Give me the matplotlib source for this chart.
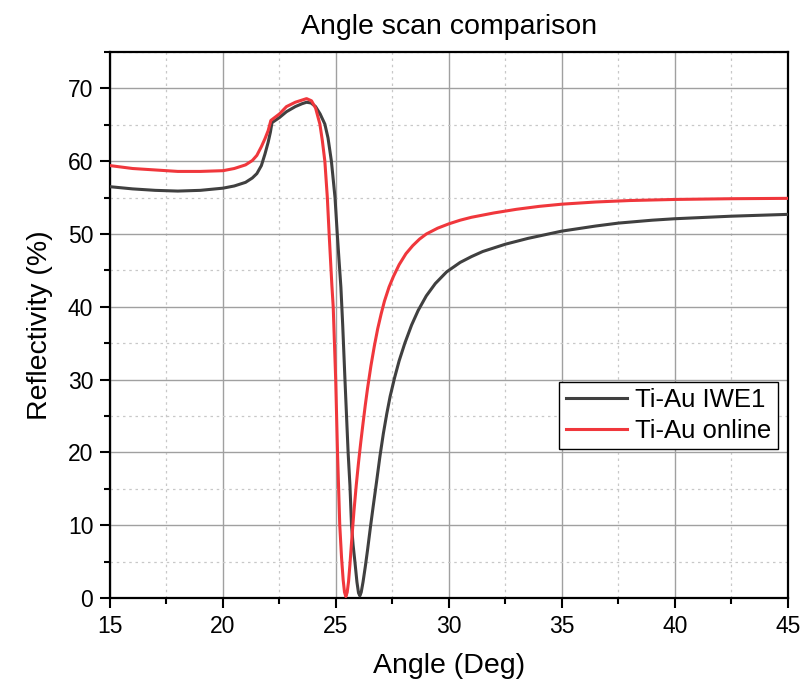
import matplotlib
matplotlib.use("Agg")
import matplotlib.pyplot as plt
from matplotlib.ticker import MultipleLocator

plt.rcParams['font.family'] = ['Liberation Sans', 'DejaVu Sans']

# Ti-Au IWE1 (dark)
iwe1_x = [15.0, 16.0, 17.0, 18.0, 19.0, 20.0, 20.5, 21.0, 21.3, 21.5, 21.7, 21.86, 22.0, 22.1,
          22.17, 22.5, 22.81, 23.2, 23.5, 23.7, 23.9, 24.1, 24.3, 24.51, 24.65, 24.8, 24.96,
          25.06, 25.14, 25.22, 25.3, 25.4, 25.54, 25.62, 25.69, 25.76, 25.84, 25.93, 26.0,
          26.06, 26.12, 26.2, 26.3, 26.4, 26.53, 26.65, 26.8, 26.95, 27.1, 27.25, 27.4, 27.6,
          27.8, 28.05, 28.35, 28.64, 29.0, 29.4, 29.9, 30.5, 31.0, 31.5, 32.5, 33.5, 35.0,
          36.5, 37.5, 39.0, 40.0, 42.5, 45.0]
iwe1_y = [56.5, 56.2, 56.0, 55.9, 56.0, 56.3, 56.6, 57.1, 57.7, 58.3, 59.4, 61.0, 62.6, 64.0,
          65.3, 66.0, 66.8, 67.5, 67.9, 68.1, 68.0, 67.5, 66.5, 65.1, 63.2, 60.0, 55.0,
          50.0, 46.3, 42.7, 37.5, 30.0, 20.0, 15.5, 10.0, 7.3, 5.0, 2.2, 0.7,
          0.3, 0.8, 2.2, 4.3, 6.6, 9.8, 12.6, 16.0, 19.5, 22.6, 25.3, 27.7, 30.3,
          32.6, 35.0, 37.5, 39.5, 41.5, 43.2, 44.8, 46.1, 46.9, 47.6, 48.6, 49.4, 50.4,
          51.1, 51.5, 51.9, 52.1, 52.45, 52.7]

# Ti-Au online (red)
online_x = [15.0, 16.0, 17.0, 18.0, 19.0, 20.0, 20.5, 21.0, 21.3, 21.5, 21.7, 21.86, 22.0,
            22.12, 22.5, 22.81, 23.2, 23.5, 23.7, 23.92, 24.1, 24.29, 24.4, 24.51, 24.62,
            24.7, 24.82, 24.88, 24.99, 25.07, 25.17, 25.25, 25.32, 25.38, 25.44, 25.5, 25.56,
            25.62, 25.7, 25.8, 25.9, 26.0, 26.1, 26.2, 26.3, 26.4, 26.55, 26.7, 26.85, 27.0,
            27.15, 27.35, 27.55, 27.8, 28.1, 28.4, 28.7, 29.0, 29.5, 30.0, 30.5, 31.0, 32.0,
            33.0, 34.0, 35.0, 36.5, 38.0, 40.0, 42.5, 45.0]
online_y = [59.4, 59.0, 58.8, 58.6, 58.6, 58.7, 59.0, 59.5, 60.1, 60.8, 62.0, 63.1, 64.2,
            65.6, 66.5, 67.5, 68.1, 68.4, 68.6, 68.3, 67.3, 65.1, 62.8, 60.0, 55.0,
            50.0, 43.0, 40.0, 30.0, 20.0, 10.0, 5.5, 2.5, 0.8, 0.2, 0.8, 2.3,
            4.6, 8.0, 12.0, 15.5, 18.6, 21.4, 24.0, 26.5, 28.8, 31.9, 34.6, 37.0, 39.0,
            40.8, 42.7, 44.2, 45.8, 47.3, 48.4, 49.3, 50.0, 50.8, 51.4, 51.9, 52.3, 52.9,
            53.4, 53.8, 54.1, 54.4, 54.6, 54.75, 54.85, 54.9]

fig = plt.figure(figsize=(8.03, 6.90), dpi=100)
ax = fig.add_axes([0.137, 0.1333, 0.844, 0.7913])

ax.plot(iwe1_x, iwe1_y, color='#404040', lw=2.2, label='Ti-Au IWE1', zorder=3,
        solid_joinstyle='round')
ax.plot(online_x, online_y, color='#f0373c', lw=2.2, label='Ti-Au online', zorder=4,
        solid_joinstyle='round')

ax.set_xlim(15, 45)
ax.set_ylim(0, 75)
ax.xaxis.set_major_locator(MultipleLocator(5))
ax.xaxis.set_minor_locator(MultipleLocator(2.5))
ax.yaxis.set_major_locator(MultipleLocator(10))
ax.yaxis.set_minor_locator(MultipleLocator(5))

ax.grid(which='major', color='#a0a0a0', lw=1.0, ls='-')
ax.grid(which='minor', color='#c8c8c8', lw=0.9, ls=(0, (2, 3)))
ax.set_axisbelow(True)

for s in ax.spines.values():
    s.set_linewidth(1.6)
    s.set_color('black')

ax.tick_params(which='major', direction='out', length=7, width=1.5, labelsize=16.5, pad=5)
ax.tick_params(which='minor', direction='out', length=4.5, width=1.5)

ax.set_xlabel('Angle (Deg)', fontsize=20.5, labelpad=11)
ax.set_ylabel('Reflectivity (%)', fontsize=20.5, labelpad=11)
ax.set_title('Angle scan comparison', fontsize=20.5, pad=13)

leg = ax.legend(loc='upper right', bbox_to_anchor=(0.985, 0.396), fontsize=18.5,
                frameon=True, fancybox=False, edgecolor='black', framealpha=1,
                handlelength=2.4, borderpad=0.25, labelspacing=0.25, handletextpad=0.3,
                borderaxespad=0)
leg.get_frame().set_linewidth(1.0)

fig.savefig('out.png', dpi=100)
